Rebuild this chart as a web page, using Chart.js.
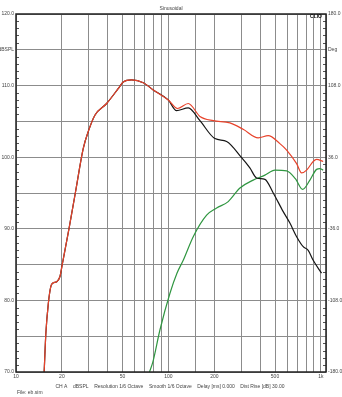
<!DOCTYPE html>
<html>
<head>
<meta charset="utf-8">
<script src="https://cdn.jsdelivr.net/npm/chart.js@4/dist/chart.umd.min.js"></script>
<style>
  html, body { margin: 0; padding: 0; background: #fff; }
  #wrap { width: 342px; height: 397px; }
</style>
</head>
<body>
<div id="wrap"><canvas id="clio"></canvas></div>
<script>
// red trace (dBSPL)
const redFreq = [15.3, 15.7, 16.3, 16.9, 17.4, 18.5, 19.4, 20.1, 22.3, 24.5, 27.6, 29.8, 33.0, 39.3, 46.9,
  50.5, 57.4, 68.4, 79.5, 99.7, 114.6, 134.9, 160.9, 196.7, 253, 309, 388, 451, 538, 596, 693, 747, 806,
  890, 937, 1035];
const redDb = [70.0, 75.4, 79.6, 81.9, 82.4, 82.6, 83.3, 85.0, 90.1, 95.0, 101.2, 103.6, 105.9, 107.5, 109.6,
  110.5, 110.8, 110.4, 109.4, 108.0, 106.8, 107.5, 105.7, 105.1, 104.8, 103.9, 102.7, 103.0, 101.9, 101.0, 99.1, 97.8, 98.2,
  99.4, 99.7, 99.4];

// black trace
const blackFreq = [15.3, 15.7, 16.3, 16.9, 17.4, 18.5, 19.4, 20.1, 22.3, 24.5, 27.6, 29.8, 33.0, 39.3, 46.9,
  50.5, 57.4, 68.4, 79.5, 99.7, 113, 134.9, 160.9, 201.8, 240.8, 300, 342, 378.7, 429.4, 486.7, 565.9, 626,
  693, 765.6, 825.5, 890, 1010];
const blackDb = [70.0, 75.4, 79.6, 81.9, 82.4, 82.6, 83.3, 85.0, 90.1, 95.0, 101.2, 103.6, 105.9, 107.5, 109.6,
  110.5, 110.8, 110.4, 109.4, 108.0, 106.5, 106.9, 105.1, 102.6, 102.2, 100.0, 98.5, 97.1, 96.9, 95.0, 92.4, 90.8,
  88.9, 87.5, 87.0, 85.6, 83.8];

// green trace
const greenFreq = [75.1, 78.8, 88.0, 102.3, 113.7, 125, 145.4, 178, 207, 246.7, 294.4, 359.7, 429.4, 499.4,
  596, 680, 758.6, 847, 937, 985, 1035];
const greenDb = [70.0, 71.3, 75.9, 81.0, 83.8, 85.6, 88.9, 91.9, 92.9, 93.8, 95.7, 96.8, 97.5, 98.2,
  98.1, 97.0, 95.5, 96.8, 98.3, 98.4, 98.2];

// axis labels
const xLabelValues = [10, 20, 50, 100, 200, 500, 1000];
const xLabelTexts = ['10', '20', '50', '100', '200', '500', '1k'];
const dbLabelValues = [120, 110, 100, 90, 80, 70];
const degLabelValues = [180, 108, 36, -36, -108, -180];

const pts = (fs, vs) => fs.map((f, i) => ({ x: f, y: vs[i] }));
const tickFont = { family: "'Liberation Sans', Arial, sans-serif", size: 5 };
const gridColor = '#8c8c8c';

const clioDecor = {
  id: 'clioDecor',
  afterDraw(chart) {
    const { ctx, chartArea: a, scales } = chart;
    const y = scales.y;
    ctx.save();
    // minor ticks every 1 dB, both sides
    ctx.strokeStyle = '#555';
    ctx.lineWidth = 1;
    for (let v = 71; v < 120; v++) {
      if (v % 5 === 0) continue;
      const py = Math.round(y.getPixelForValue(v)) + 0.5;
      ctx.beginPath();
      ctx.moveTo(a.left, py); ctx.lineTo(a.left + 3, py);
      ctx.moveTo(a.right - 3, py); ctx.lineTo(a.right, py);
      ctx.stroke();
    }
    // frame
    ctx.strokeStyle = '#222';
    ctx.lineWidth = 1.5;
    ctx.strokeRect(a.left, a.top, a.right - a.left, a.bottom - a.top);
    // logo
    ctx.fillStyle = '#111';
    ctx.font = "bold 5px 'Liberation Sans', Arial, sans-serif";
    ctx.textAlign = 'right';
    ctx.textBaseline = 'middle';
    ctx.fillText('CLIO', a.right - 4, a.top + 3);
    // footer
    ctx.fillStyle = '#444';
    ctx.font = "5px 'Liberation Sans', Arial, sans-serif";
    ctx.textAlign = 'center';
    ctx.fillText('CH A    dBSPL    Resolution 1/6 Octave    Smooth 1/6 Octave    Delay [ms] 0.000    Dist Rise [dB] 30.00', 170, 387);
    ctx.textAlign = 'left';
    ctx.fillText('File: eb.sim', 17, 393);
    ctx.restore();
  }
};

new Chart(document.getElementById('clio'), {
  type: 'line',
  data: {
    datasets: [
      { label: 'red', data: pts(redFreq, redDb), borderColor: '#e8432b' },
      { label: 'black', data: pts(blackFreq, blackDb), borderColor: '#151515' },
      { label: 'green', data: pts(greenFreq, greenDb), borderColor: '#2f9640' }
    ]
  },
  options: {
    responsive: true,
    maintainAspectRatio: false,
    animation: false,
    layout: { padding: 0 },
    elements: {
      point: { radius: 0 },
      line: { borderWidth: 1.2, cubicInterpolationMode: 'monotone', fill: false }
    },
    plugins: {
      legend: { display: false },
      tooltip: { enabled: false },
      title: {
        display: true,
        text: 'Sinusoidal',
        color: '#444',
        font: { ...tickFont, weight: 'normal', lineHeight: 1 },
        padding: { top: 6, bottom: 3 }
      }
    },
    scales: {
      x: {
        type: 'logarithmic',
        min: 10,
        max: 1080,
        border: { display: false },
        grid: { color: gridColor, lineWidth: 1, drawTicks: false },
        afterFit: s => { s.height = 25; },
        ticks: {
          autoSkip: false,
          maxRotation: 0,
          padding: 2,
          color: '#444',
          font: tickFont,
          callback: v => {
            const i = xLabelValues.indexOf(Math.round(v));
            return i >= 0 ? xLabelTexts[i] : '';
          }
        }
      },
      y: {
        position: 'left',
        min: 70,
        max: 120,
        border: { display: false },
        grid: { color: gridColor, lineWidth: 1, drawTicks: false },
        afterFit: s => { s.width = 16; },
        ticks: {
          stepSize: 5,
          autoSkip: false,
          padding: 2,
          color: '#444',
          font: tickFont,
          callback: v => v === 115 ? 'dBSPL' : (dbLabelValues.includes(v) ? v.toFixed(1) : '')
        }
      },
      y2: {
        position: 'right',
        min: -180,
        max: 180,
        border: { display: false },
        grid: { display: false, drawTicks: false },
        afterFit: s => { s.width = 16; },
        ticks: {
          stepSize: 36,
          autoSkip: false,
          padding: 2,
          color: '#444',
          font: tickFont,
          callback: v => v === 144 ? 'Deg' : (degLabelValues.includes(v) ? v.toFixed(1) : '')
        }
      }
    }
  },
  plugins: [clioDecor]
});
</script>
</body>
</html>
